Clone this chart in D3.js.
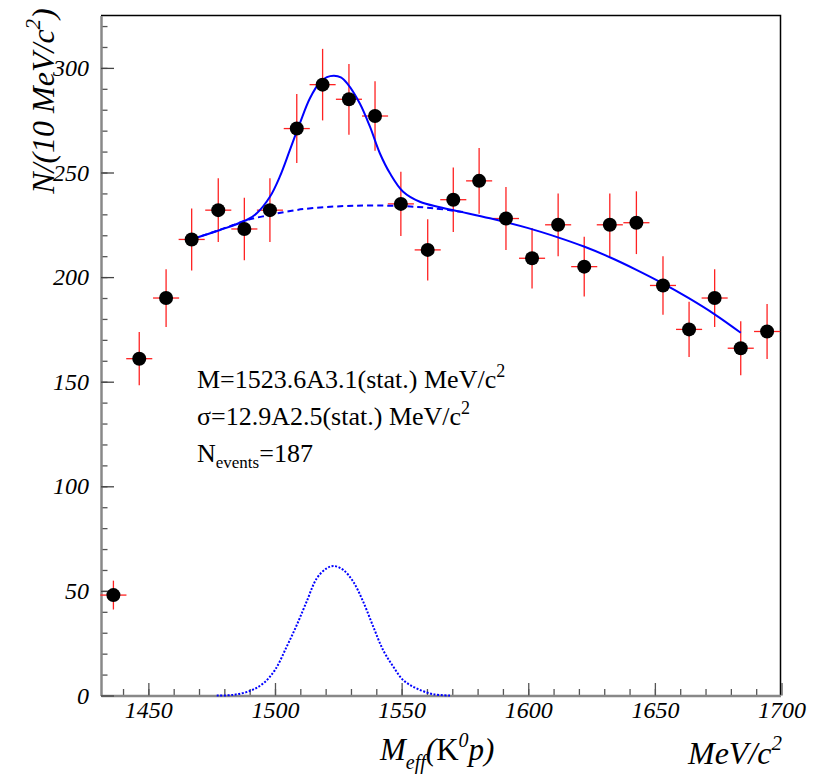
<!DOCTYPE html>
<html lang="en">
<head>
  <meta charset="UTF-8">
  <title>M_eff(K0p) fit</title>
  <script src="https://d3js.org/d3.v7.min.js"></script>
  <style>
    body { margin: 0; background: #fff; }
    svg { display: block; }
    text { font-family: 'Liberation Serif', 'Times New Roman', serif; fill: #000; }
  </style>
</head>
<body>
  <svg id="chart" width="819" height="782"></svg>
  <script>
    // data
    const binCenters = [1436.2, 1446.4, 1457.0, 1467.1, 1477.6, 1487.9, 1498.0, 1508.6, 1518.8, 1529.2,
                        1539.5, 1549.7, 1560.3, 1570.4, 1580.6, 1591.2, 1601.5, 1611.8, 1622.1, 1632.2,
                        1642.7, 1653.2, 1663.5, 1673.6, 1683.9, 1694.3];
    const counts = [48, 161, 190, 218, 232, 223, 232, 271, 292, 285,
                    277, 235, 213, 237, 246, 228, 209, 225, 205, 225,
                    226, 196, 175, 190, 166, 174];
    const errors = [6.9, 12.7, 13.8, 14.8, 15.2, 14.9, 15.2, 16.5, 17.1, 16.9,
                    16.6, 15.3, 14.6, 15.4, 15.7, 15.1, 14.5, 15.0, 14.3, 15.0,
                    15.0, 14.0, 13.2, 13.8, 12.9, 13.2];
    const binHalfWidth = 5.15;

    // total fit (solid)
    const fitX = [1467.1, 1478.3, 1488.8, 1492.8, 1498.0, 1501.9, 1505.9, 1509.8, 1513.8, 1517.7,
                  1520.5, 1523.3, 1526.0, 1528.5, 1533.5, 1537.5, 1541.4, 1545.4, 1550.6, 1557.2,
                  1565.1, 1573.0, 1584.9, 1600.0, 1611.7, 1622.0, 1632.2, 1642.5, 1653.1, 1663.4,
                  1673.6, 1683.9];
    const fitY = [218.1, 222.5, 227.3, 230.5, 238.4, 248.0, 260.8, 273.5, 285.5, 293.0,
                  295.6, 296.3, 295.5, 292.6, 283.0, 271.9, 259.2, 249.6, 240.8, 236.0,
                  233.4, 231.3, 228.1, 223.4, 219.0, 214.6, 209.5, 203.6, 197.0, 189.9,
                  182.2, 173.4];
    // background (dashed)
    const bgX = [1467.1, 1477.5, 1483.5, 1490.0, 1498.0, 1506.0, 1515.0, 1530.9, 1549.4, 1562.5, 1575.0];
    const bgY = [218.1, 222.3, 224.9, 227.6, 229.7, 231.6, 233.0, 234.1, 234.0, 232.9, 231.0];
    // signal (dotted)
    const sigX = [1477.0, 1483.5, 1490.1, 1495.4, 1500.0, 1504.6, 1508.6, 1512.5, 1516.5, 1520.4,
                  1523.3, 1527.0, 1530.9, 1534.8, 1538.8, 1542.7, 1546.7, 1550.6, 1555.9, 1562.5, 1569.7];
    const sigY = [0, 0.3, 2.2, 5.8, 12.2, 23.3, 33.7, 44.9, 56.0, 60.8,
                  61.9, 60.0, 54.4, 44.9, 32.9, 21.7, 13.8, 7.4, 3.4, 0.6, 0];

    const xTicks = [1450, 1500, 1550, 1600, 1650, 1700];
    const xMinorTicks = d3.range(1440, 1700, 10);
    const yTicks = [0, 50, 100, 150, 200, 250, 300];
    const yMinorTicks = d3.range(0, 330, 10);

    const svg = d3.select("#chart");
    const L = 101, R = 780.5, T = 15.6, B = 695.5;

    const x = d3.scaleLinear().domain([1431.3, 1699.6]).range([L, R]);
    const y = d3.scaleLinear().domain([0, 325]).range([B, T]);

    // frame top/right
    svg.append("path")
      .attr("d", `M${L},${T}H${R}V${B}`)
      .attr("fill", "none").attr("stroke", "#000").attr("stroke-width", 1.5);

    // minor ticks
    svg.append("g").attr("transform", `translate(0,${B})`)
      .call(d3.axisBottom(x).tickValues(xMinorTicks).tickSize(-6.5).tickFormat(""))
      .call(g => g.select(".domain").remove())
      .call(g => g.selectAll("line").attr("stroke", "#555").attr("stroke-width", 1.3));
    svg.append("g").attr("transform", `translate(${L},0)`)
      .call(d3.axisLeft(y).tickValues(yMinorTicks).tickSize(-6.5).tickFormat(""))
      .call(g => g.select(".domain").remove())
      .call(g => g.selectAll("line").attr("stroke", "#555").attr("stroke-width", 1.3));

    // major ticks + labels
    svg.append("g").attr("transform", `translate(0,${B})`)
      .call(d3.axisBottom(x).tickValues(xTicks).tickFormat(d3.format("d"))
        .tickSize(-12.5).tickSizeOuter(0).tickPadding(5.5))
      .call(g => g.select(".domain").attr("stroke", "#888").attr("stroke-width", 2.5))
      .call(g => g.selectAll("line").attr("stroke", "#555").attr("stroke-width", 1.3))
      .call(g => g.selectAll("text").attr("font-size", 24).attr("font-style", "italic")
        .attr("font-family", "Liberation Serif"));
    svg.append("g").attr("transform", `translate(${L},0)`)
      .call(d3.axisLeft(y).tickValues(yTicks).tickSize(-13).tickSizeOuter(0).tickPadding(12))
      .call(g => g.select(".domain").attr("stroke", "#888").attr("stroke-width", 2.5))
      .call(g => g.selectAll("line").attr("stroke", "#444").attr("stroke-width", 1.3))
      .call(g => g.selectAll("text").attr("font-size", 24).attr("font-style", "italic")
        .attr("font-family", "Liberation Serif"));

    // error bars
    const pts = binCenters.map((c, i) => ({ c, v: counts[i], e: errors[i] }));
    const eb = svg.append("g").attr("stroke", "#f22").attr("stroke-width", 1.3);
    eb.selectAll("line.h").data(pts).join("line").attr("class", "h")
      .attr("x1", d => x(d.c - binHalfWidth)).attr("x2", d => x(d.c + binHalfWidth))
      .attr("y1", d => y(d.v)).attr("y2", d => y(d.v));
    eb.selectAll("line.v").data(pts).join("line").attr("class", "v")
      .attr("x1", d => x(d.c)).attr("x2", d => x(d.c))
      .attr("y1", d => y(d.v - d.e)).attr("y2", d => y(d.v + d.e));

    // fit curves
    const line = d3.line().x(d => x(d[0])).y(d => y(d[1])).curve(d3.curveCatmullRom.alpha(0.5));
    svg.append("path").datum(sigX.map((v, i) => [v, sigY[i]]))
      .attr("d", line).attr("fill", "none").attr("stroke", "#00f")
      .attr("stroke-width", 2).attr("stroke-dasharray", "2,1.6");
    svg.append("path").datum(bgX.map((v, i) => [v, bgY[i]]))
      .attr("d", line).attr("fill", "none").attr("stroke", "#00f")
      .attr("stroke-width", 2).attr("stroke-dasharray", "6,4");
    svg.append("path").datum(fitX.map((v, i) => [v, fitY[i]]))
      .attr("d", line).attr("fill", "none").attr("stroke", "#00f").attr("stroke-width", 2);

    // markers
    svg.append("g").selectAll("circle").data(pts).join("circle")
      .attr("cx", d => x(d.c)).attr("cy", d => y(d.v)).attr("r", 7).attr("fill", "#000");

    // fit results text
    const info = svg.append("g").attr("font-size", 26);
    const t1 = info.append("text").attr("x", 197).attr("y", 388);
    t1.append("tspan").text("M=1523.6A3.1(stat.) MeV/c");
    t1.append("tspan").attr("font-size", 18).attr("dy", -11).text("2");
    const t2 = info.append("text").attr("x", 197).attr("y", 425);
    t2.append("tspan").text("σ=12.9A2.5(stat.) MeV/c");
    t2.append("tspan").attr("font-size", 18).attr("dy", -11).text("2");
    const t3 = info.append("text").attr("x", 197).attr("y", 462);
    t3.append("tspan").text("N");
    t3.append("tspan").attr("font-size", 17).attr("dy", 6).text("events");
    t3.append("tspan").attr("dy", -6).text("=187");

    // axis titles
    const xt = svg.append("text").attr("x", 380).attr("y", 760).attr("font-size", 31);
    xt.append("tspan").attr("font-style", "italic").text("M");
    xt.append("tspan").attr("font-style", "italic").attr("font-size", 20).attr("dy", 9).text("eff");
    xt.append("tspan").attr("font-style", "italic").attr("dy", -9).text("(");
    xt.append("tspan").text("K");
    xt.append("tspan").attr("font-style", "italic").attr("font-size", 20).attr("dy", -13).text("0");
    xt.append("tspan").attr("font-style", "italic").attr("dy", 13).text("p)");

    const ut = svg.append("text").attr("x", 688).attr("y", 764).attr("font-size", 32).attr("font-style", "italic");
    ut.append("tspan").text("MeV/c");
    ut.append("tspan").attr("font-size", 21).attr("dy", -14).text("2");

    const yt = svg.append("text").attr("transform", "translate(54,101) rotate(-90)")
      .attr("text-anchor", "middle").attr("font-size", 32).attr("font-style", "italic");
    yt.append("tspan").text("N/(10 MeV/c");
    yt.append("tspan").attr("font-size", 21).attr("dy", -14).text("2");
    yt.append("tspan").attr("dy", 14).text(")");
  </script>
</body>
</html>
